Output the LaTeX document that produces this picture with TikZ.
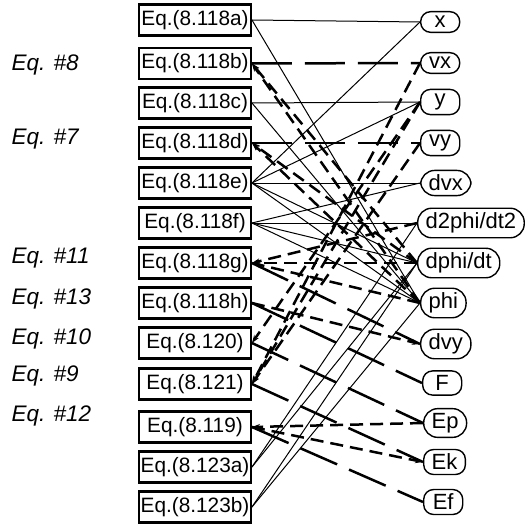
\documentclass[tikz,border=0pt]{standalone}
\usepackage{fontspec}
\setmainfont{Liberation Sans}
\usetikzlibrary{arrows.meta}
\begin{document}
\begin{tikzpicture}[x=1pt,y=-1pt,
  eqbox/.style={draw, line width=2.4pt, minimum width=111.5pt, minimum height=31pt, inner sep=1pt, font=\fontsize{20.8}{24}\selectfont},
  varbox/.style={draw, line width=1.4pt, rounded corners=9.8pt, minimum width=39pt, inner xsep=8pt, inner ysep=4.5pt, anchor=west, font=\fontsize{22}{26}\selectfont},
  tallvar/.style={varbox, rounded corners=14pt},
  lab/.style={anchor=base west, font=\fontsize{22.5}{26}\selectfont\itshape},
  thin/.style={line width=1pt},
  ldash/.style={line width=2.5pt, dash pattern=on 40pt off 13pt},
  sdash/.style={line width=2.5pt, dash pattern=on 13pt off 7pt},
  tip/.style={-{Stealth[length=8pt,width=5.5pt]}}
]
\useasboundingbox (0,0) rectangle (526,524);

% equations
\node[eqbox] (a) at (195,20) {Eq.(8.118a)};
\node[eqbox] (b) at (195,63.5) {Eq.(8.118b)};
\node[eqbox] (c) at (195,103) {Eq.(8.118c)};
\node[eqbox] (d) at (195,143) {Eq.(8.118d)};
\node[eqbox] (e) at (195,183) {Eq.(8.118e)};
\node[eqbox] (f) at (195,223) {Eq.(8.118f)};
\node[eqbox] (g) at (195,263) {Eq.(8.118g)};
\node[eqbox] (h) at (195,303) {Eq.(8.118h)};
\node[eqbox] (q120) at (195,343) {Eq.(8.120)};
\node[eqbox] (q121) at (195,384) {Eq.(8.121)};
\node[eqbox] (q119) at (195,427) {Eq.(8.119)};
\node[eqbox] (q123a) at (195,467) {Eq.(8.123a)};
\node[eqbox] (q123b) at (195,507) {Eq.(8.123b)};

% labels
\node[lab] (l8) at (8,70.4) {Eq. \#8};
\node[lab] (l7) at (8,144.4) {Eq. \#7};
\node[lab] (l11) at (8,263.4) {Eq. \#11};
\node[lab] (l13) at (8,304.4) {Eq. \#13};
\node[lab] (l10) at (8,344.4) {Eq. \#10};
\node[lab] (l9) at (8,381.4) {Eq. \#9};
\node[lab] (l12) at (8,421.4) {Eq. \#12};

% variables
\node[varbox] (x) at (420,22) {x};
\node[varbox] (vx) at (420,63) {vx};
\node[varbox] (y) at (420,102) {y};
\node[varbox] (vy) at (420,143) {vy};
\node[tallvar] (dvx) at (420,183) {dvx};
\node[tallvar] (ddphi) at (417,223) {d2phi/dt2};
\node[tallvar] (dphi) at (417,263) {dphi/dt};
\node[tallvar] (phi) at (420,303) {phi};
\node[tallvar] (dvy) at (420,344) {dvy};
\node[varbox] (F) at (422,383) {F};
\node[tallvar] (Ep) at (423,423) {Ep};
\node[varbox] (Ek) at (423,462) {Ek};
\node[varbox] (Ef) at (423,502) {Ef};

% solid connectors
\draw[thin] (a.east) -- (x.west);
\draw[thin] (a.east) -- (phi.west);
\draw[thin] (c.east) -- (y.west);
\draw[thin] (c.east) -- (phi.west);
\draw[thin] (e.east) -- (x.west);
\draw[thin] (e.east) -- (y.west);
\draw[thin] (e.east) -- (dvx.west);
\draw[thin] (e.east) -- (dphi.west);
\draw[thin] (e.east) -- (phi.west);
\draw[thin] (f.east) -- (dvx.west);
\draw[thin] (f.east) -- (ddphi.west);
\draw[thin] (f.east) -- (dphi.west);
\draw[thin] (f.east) -- (phi.west);
\draw[thin] (q123a.east) -- (ddphi.west);
\draw[thin] (q123a.east) -- (dphi.west);
\draw[thin] (q123b.east) -- (dphi.west);
\draw[thin] (q123b.east) -- (phi.west);

% long dashed connectors
\draw[ldash] (b.east) -- (vx.west);
\draw[ldash] (d.east) -- (vy.west);
\draw[ldash] (g.east) -- (dvy.west);
\draw[ldash] (h.east) -- (F.west);
\draw[ldash] (q120.east) -- (Ep.west);
\draw[ldash] (q121.east) -- (Ek.west);
\draw[ldash] (q119.east) -- (Ef.west);

% short dashed connectors
\draw[sdash, tip] (dphi.west) -- (b.east);
\draw[sdash, tip] (phi.west) -- (b.east);
\draw[sdash, tip] (dphi.west) -- (d.east);
\draw[sdash, tip] (phi.west) -- (d.east);
\draw[sdash, tip] (ddphi.west) -- (g.east);
\draw[sdash, tip] (dphi.west) -- (g.east);
\draw[sdash, tip] (phi.west) -- (g.east);
\draw[sdash, tip] (h.east) -- (dvy.west);
\draw[sdash, tip] (y.west) -- (q120.east);
\draw[sdash, tip] (vx.west) -- (q121.east);
\draw[sdash, tip] (vy.west) -- (q121.east);
\draw[sdash, tip] (y.west) -- (q121.east);
\draw[sdash, tip] (Ep.west) -- (q119.east);
\draw[sdash, tip] (q119.east) -- (Ek.west);
\end{tikzpicture}
\end{document}
